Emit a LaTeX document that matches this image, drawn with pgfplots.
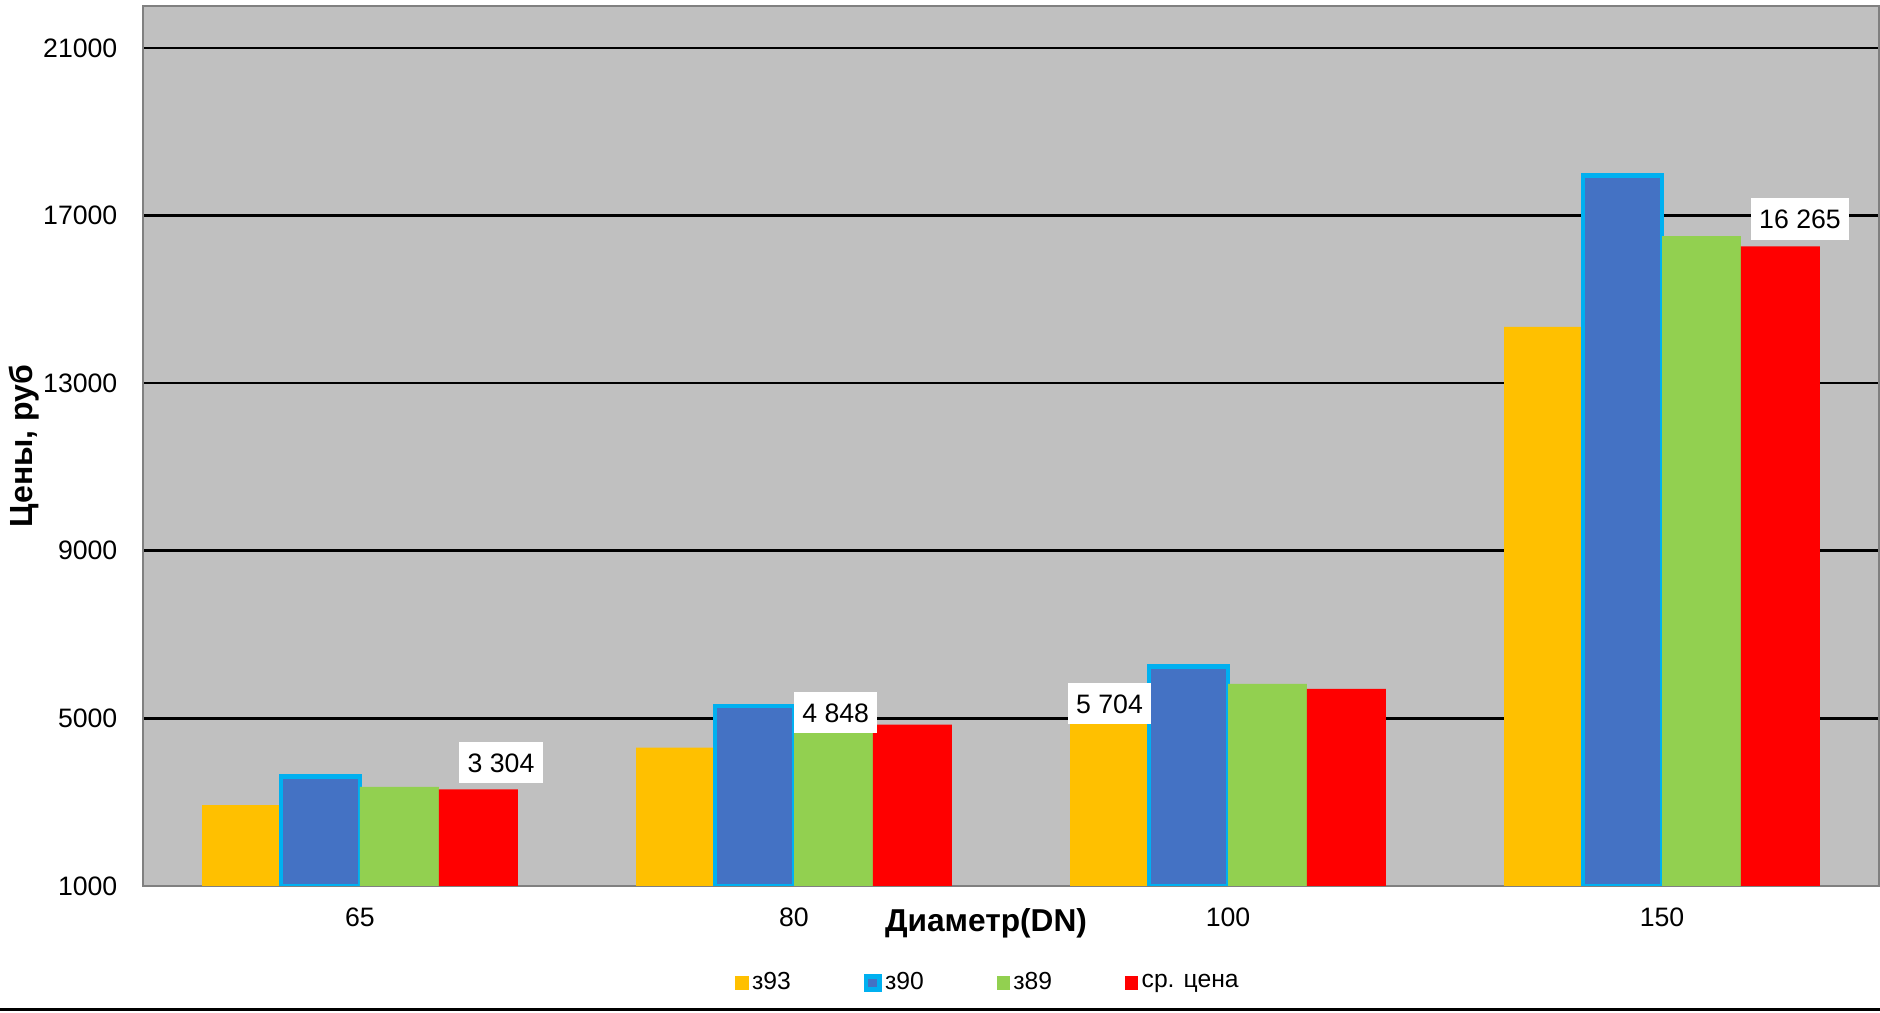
\documentclass[border=0pt]{standalone}
\usepackage{pgfplots}
\pgfplotsset{compat=1.18}
\usepackage{fontspec}
\setmainfont{Liberation Sans}

\definecolor{cOrange}{HTML}{FFC000}
\definecolor{cBlue}{HTML}{4472C4}
\definecolor{cCyan}{HTML}{00B0F0}
\definecolor{cGreen}{HTML}{92D050}
\definecolor{cRed}{HTML}{FF0000}
\definecolor{cBack}{HTML}{C0C0C0}
\definecolor{cFrame}{HTML}{808080}

\begin{document}
\begin{tikzpicture}
\useasboundingbox (-42.9pt,-38.1pt) rectangle (521.1pt,265.8pt);
\begin{axis}[
    scale only axis,
    width=520.8pt, height=264pt,
    at={(0,0)}, anchor=south west,
    axis background/.style={fill=cBack},
    axis line style={draw=cFrame, line width=0.6pt},
    xmin=-0.5, xmax=3.5,
    ymin=1000, ymax=22000,
    xtick={0,1,2,3},
    xticklabels={65,80,100,150},
    ytick={1000,5000,9000,13000,17000,21000},
    scaled y ticks=false,
    major tick length=0pt,
    ymajorgrids=true,
    major grid style={black, line width=0.75pt},
    /pgf/number format/assume math mode=true,
    /pgf/number format/1000 sep={},
    tick label style={font=\fontsize{8}{9.6}\selectfont},
    yticklabel style={anchor=east, inner sep=0pt, xshift=-7.5pt},
    xticklabel style={anchor=center, inner sep=0pt, yshift=-9.3pt},
    ybar=0pt,
    bar width=0.182,
    xlabel={Диаметр(DN)},
    xlabel style={font=\fontsize{9.5}{11}\selectfont\bfseries,
        at={(rel axis cs:0.4856,0)}, anchor=center, yshift=-11.1pt},
    ylabel={Цены, руб},
    ylabel style={font=\fontsize{9.6}{11}\selectfont\bfseries,
        at={(rel axis cs:-0.0685,0.5)}, anchor=center},
    legend columns=4,
    legend style={at={(rel axis cs:0,0)}, anchor=west,
        xshift=177.5pt, yshift=-29.1pt,
        draw=none, fill=none, inner sep=0pt,
        font=\fontsize{7.4}{8.8}\selectfont,
        nodes={inner xsep=1pt, inner ysep=1pt}},
    legend image code/.code={\path[#1] (0pt,-2pt) rectangle (4pt,2pt);},
]
\addplot[fill=cOrange, draw=none] coordinates {(0,2927) (1,4303) (2,5058) (3,14340)};
\addplot[fill=cBlue, draw=cCyan, line width=1.4pt] coordinates {(0,3620) (1,5299) (2,6230) (3,17955)};
\addplot[fill=cGreen, draw=none] coordinates {(0,3364) (1,4940) (2,5824) (3,16506)};
\addplot[fill=cRed, draw=none] coordinates {(0,3304) (1,4848) (2,5704) (3,16265)};
\legend{\makebox[32.5pt][l]{з93},\makebox[32.5pt][l]{з90},\makebox[32.5pt][l]{з89},\makebox[32.5pt][l]{ср. цена}}

\node[fill=white, inner xsep=2.5pt, minimum height=11.7pt, font=\fontsize{8}{9.6}\selectfont] at (axis cs:0.325,3937) {3 304};
\node[fill=white, inner xsep=2.5pt, minimum height=11.7pt, font=\fontsize{8}{9.6}\selectfont] at (axis cs:1.096,5131) {4 848};
\node[fill=white, inner xsep=2.5pt, minimum height=11.7pt, font=\fontsize{8}{9.6}\selectfont] at (axis cs:1.727,5346) {5 704};
\node[fill=white, inner xsep=2.5pt, minimum height=11.7pt, font=\fontsize{8}{9.6}\selectfont] at (axis cs:3.318,16916) {16 265};
\end{axis}
\draw[black, line width=0.9pt] (-42.9pt,-37.2pt) -- (521.1pt,-37.2pt);
\end{tikzpicture}
\end{document}
